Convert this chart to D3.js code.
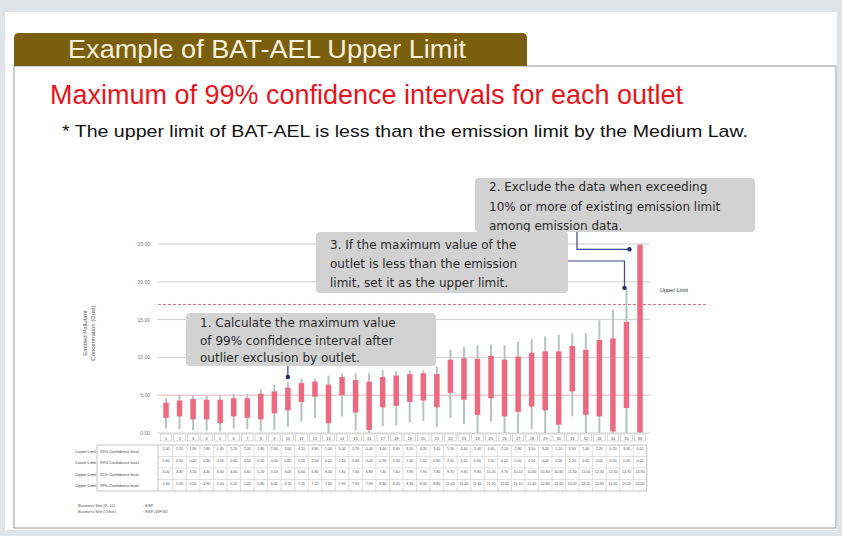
<!DOCTYPE html>
<html>
<head>
<meta charset="utf-8">
<script src="https://cdn.jsdelivr.net/npm/d3@7"></script>
<style>
  body { margin: 0; background: #dfe4e9; }
  svg { display: block; font-family: "Liberation Sans", Arial, sans-serif; }
  .note { font-family: "DejaVu Sans", sans-serif; }
</style>
</head>
<body>
<div id="graph"></div>
<script>
// outlet numbers shown in the header row of the table
const outlets = d3.range(1, 37);

// 99% / 95% confidence interval limits for each outlet
const lower99 = [0.6, 0.5, 0.4, 0.3, 0.2, 0.6, 0.5, 0.2, 0.4, 0.8, 1.5, 2.0, 0.0, 2.2, 0.3, 0.0, 0.9, 1.0,
                 1.4, 1.6, 0.8, 2.0, 1.2, 0.0, 1.5, 0.0, 0.0, 0.5, 0.0, 0.0, 2.2, 0.0, 0.0, 0.0, 0.0, 0.0];
const lower95 = [2.0, 2.2, 1.8, 1.8, 1.3, 2.2, 2.0, 1.8, 2.6, 3.0, 4.1, 4.8, 1.3, 5.0, 2.7, 0.4, 3.4, 3.6,
                 4.1, 4.3, 3.4, 5.3, 4.4, 2.4, 4.6, 2.2, 2.8, 3.5, 3.0, 1.1, 5.5, 2.4, 2.2, 0.2, 3.3, 0.1];
const upper95 = [4.0, 4.3, 4.5, 4.4, 4.4, 4.6, 4.6, 5.2, 5.5, 6.0, 6.6, 6.8, 6.4, 7.4, 7.0, 6.8, 7.4, 7.6,
                 7.8, 7.9, 7.8, 9.7, 9.9, 9.8, 10.2, 9.7, 10.1, 10.6, 10.8, 10.8, 11.5, 11.0, 12.3, 12.5, 14.7, 24.9];
const upper99 = [4.6, 5.0, 5.0, 4.9, 5.0, 5.2, 5.2, 5.8, 6.4, 6.7, 7.2, 7.2, 7.6, 7.9, 7.9, 7.9, 8.3, 8.2,
                 8.3, 8.3, 8.8, 11.0, 11.4, 11.6, 11.7, 11.6, 12.1, 12.4, 12.8, 13.0, 13.2, 13.2, 14.9, 16.3, 19.2, 25.0];

// axis ticks and the reference line
const yTicks = [0, 5, 10, 15, 20, 25];
const upperLimit = 17.0;

// table rows under the chart
const tableRows = [
  {name: "Lower Limit", level: "95% Confidence level", values: lower95},
  {name: "Lower Limit", level: "99% Confidence level", values: lower99},
  {name: "Upper Limit", level: "95% Confidence level", values: upper95},
  {name: "Upper Limit", level: "99% Confidence level", values: upper99}
];

// the three callouts: text, box, first baseline / line height, the outlet the arrow points at and the value at the dot
const notes = [
  {lines: ["1. Calculate the maximum value", "of 99% confidence interval after", "outlier exclusion by outlet."],
   box: [186, 313, 250, 53], first: 14, lh: 17.5, outlet: 10, value: 7.4},
  {lines: ["2. Exclude the data when exceeding", "10% or more of existing emission limit", "among emission data."],
   box: [475, 178, 280, 54], first: 13, lh: 19.5, outlet: 35, value: 24.3},
  {lines: ["3. If the maximum value of the", "outlet is less than the emission", "limit, set it as the upper limit."],
   box: [316, 232, 252, 61], first: 17, lh: 19, outlet: 35, value: 19.2}
];

const footRows = [["Business Site (E, 10)", ": ESP"], ["Business Site (Other)", ": ESP+WFGD"]];

const W = 842, H = 536;
const svg = d3.select('#graph')
              .append('svg')
              .attr('width', W)
              .attr('height', H);

// slide background, card and frame
svg.append('rect').attr('width', W).attr('height', H).attr('fill', '#dfe4e9');
svg.append('rect').attr('x', 5).attr('y', 12).attr('width', 832).attr('height', 518).attr('fill', '#ffffff');
svg.append('rect').attr('x', 14).attr('y', 66).attr('width', 822).attr('height', 462)
   .attr('fill', 'none').attr('stroke', '#9a9a9a').attr('stroke-width', 1);

// brown tab with the slide title
svg.append('path')
   .attr('d', 'M14,66 L14,38 Q14,33 19,33 L522,33 Q527,33 527,38 L527,66 Z')
   .attr('fill', '#7a5f0e');
svg.append('text')
   .text('Example of BAT-AEL Upper Limit')
   .attr('x', 68).attr('y', 58)
   .attr('font-size', 25)
   .attr('textLength', 398)
   .attr('lengthAdjust', 'spacingAndGlyphs')
   .attr('fill', '#f7f0dc');

svg.append('text')
   .text('Maximum of 99% confidence intervals for each outlet')
   .attr('x', 50).attr('y', 104)
   .attr('font-size', 27)
   .attr('textLength', 633)
   .attr('lengthAdjust', 'spacingAndGlyphs')
   .attr('fill', '#e8141c');

svg.append('text')
   .text('* The upper limit of BAT-AEL is less than the emission limit by the Medium Law.')
   .attr('x', 62).attr('y', 137)
   .attr('font-size', 17)
   .attr('textLength', 686)
   .attr('lengthAdjust', 'spacingAndGlyphs')
   .attr('fill', '#111');

// scales
const x = d3.scalePoint().domain(outlets).range([166, 640]);
const y = d3.scaleLinear().domain([0, 25]).range([433, 244]);

// grid lines with small tick labels
const grid = svg.append('g');
grid.selectAll('line')
    .data(yTicks)
    .enter()
    .append('line')
    .attr('x1', 157).attr('x2', 650)
    .attr('y1', d => y(d)).attr('y2', d => y(d))
    .attr('stroke', d => d == 5 ? '#efb0b8' : '#cfcfcf')
    .attr('stroke-width', 1);
grid.selectAll('text')
    .data(yTicks)
    .enter()
    .append('text')
    .text(d => d.toFixed(2))
    .attr('x', 150).attr('y', d => y(d) + 2)
    .attr('text-anchor', 'end')
    .attr('font-size', 5)
    .attr('fill', '#777');

// y axis title
svg.append('text')
   .attr('transform', 'translate(87,333) rotate(-90)')
   .attr('text-anchor', 'middle')
   .attr('font-size', 6)
   .attr('fill', '#555')
   .selectAll('tspan')
   .data(['Emitted Pollutant', 'Concentration (Dust)'])
   .enter()
   .append('tspan')
   .attr('x', 0).attr('dy', (d, i) => i == 0 ? 0 : 8)
   .text(d => d);

// upper limit reference line
svg.append('line')
   .attr('x1', 158).attr('x2', 706)
   .attr('y1', y(upperLimit)).attr('y2', y(upperLimit))
   .attr('stroke', '#e0707c')
   .attr('stroke-width', 1)
   .attr('stroke-dasharray', '3,2');
svg.append('text')
   .text('Upper Limit')
   .attr('x', 660).attr('y', y(upperLimit) - 12)
   .attr('font-size', 5.5)
   .attr('fill', '#333');

// 99% interval as a thin grey line, 95% interval as a thick pink bar
const bars = svg.append('g')
                .selectAll('g')
                .data(outlets)
                .enter()
                .append('g');
bars.append('line')
    .attr('x1', d => x(d)).attr('x2', d => x(d))
    .attr('y1', (d, i) => y(lower99[i])).attr('y2', (d, i) => y(upper99[i]))
    .attr('stroke', '#b9c2c0')
    .attr('stroke-width', 2);
bars.append('rect')
    .attr('x', d => x(d) - 2.75)
    .attr('width', 5.5)
    .attr('y', (d, i) => y(upper95[i]))
    .attr('height', (d, i) => y(lower95[i]) - y(upper95[i]))
    .attr('fill', '#ec6a81');

// table under the chart
const colW = x.step();
const table = svg.append('g');
// header boxes with outlet numbers
table.selectAll('rect.head')
     .data(outlets)
     .enter()
     .append('rect')
     .attr('class', 'head')
     .attr('x', d => x(d) - colW / 2 + 1).attr('y', 434)
     .attr('width', colW - 2).attr('height', 7)
     .attr('fill', 'none').attr('stroke', '#bbb').attr('stroke-width', 0.6);
table.selectAll('text.head')
     .data(outlets)
     .enter()
     .append('text')
     .attr('class', 'head')
     .text(d => d)
     .attr('x', d => x(d)).attr('y', 439.5)
     .attr('text-anchor', 'middle')
     .attr('font-size', 4)
     .attr('fill', '#555');

const rowTop = 445, rowH = 11.5;
const tableLeft = 97, tableRight = x(36) + colW / 2;
table.append('rect')
     .attr('x', tableLeft).attr('y', rowTop)
     .attr('width', tableRight - tableLeft).attr('height', rowH * tableRows.length)
     .attr('fill', 'none').attr('stroke', '#aaa').attr('stroke-width', 0.7);
table.append('line')
     .attr('x1', 158).attr('x2', 158)
     .attr('y1', rowTop).attr('y2', rowTop + rowH * tableRows.length)
     .attr('stroke', '#aaa').attr('stroke-width', 0.7);
tableRows.forEach((row, r) => {
  const ry = rowTop + r * rowH;
  if (r > 0) {
    table.append('line')
         .attr('x1', 158).attr('x2', tableRight)
         .attr('y1', ry).attr('y2', ry)
         .attr('stroke', '#ccc').attr('stroke-width', 0.6);
  }
  table.append('text').text(row.name)
       .attr('x', 96).attr('y', ry + 7.5)
       .attr('text-anchor', 'end').attr('font-size', 4).attr('fill', '#444');
  table.append('text').text(row.level)
       .attr('x', 100).attr('y', ry + 7.5)
       .attr('font-size', 4).attr('fill', '#444');
  table.selectAll(null)
       .data(row.values)
       .enter()
       .append('text')
       .text(v => v.toFixed(2))
       .attr('x', (v, i) => x(outlets[i])).attr('y', ry + 5)
       .attr('text-anchor', 'middle')
       .attr('font-size', 3.6)
       .attr('fill', '#555');
});
// column separators
table.selectAll('line.col')
     .data(outlets)
     .enter()
     .append('line')
     .attr('x1', d => x(d) + colW / 2).attr('x2', d => x(d) + colW / 2)
     .attr('y1', rowTop).attr('y2', rowTop + rowH * tableRows.length)
     .attr('stroke', '#ccc').attr('stroke-width', 0.6);

// footnote under the table
footRows.forEach((f, i) => {
  svg.append('text').text(f[0]).attr('x', 78).attr('y', 507 + i * 6)
     .attr('font-size', 4).attr('fill', '#555');
  svg.append('text').text(f[1]).attr('x', 143).attr('y', 507 + i * 6)
     .attr('font-size', 4).attr('fill', '#555');
});

// callout boxes
const noteG = svg.append('g');
notes.forEach(n => {
  const [bx, by, bw, bh] = n.box;
  noteG.append('rect')
       .attr('x', bx).attr('y', by).attr('width', bw).attr('height', bh)
       .attr('rx', 4)
       .attr('fill', '#d2d2d2');
  noteG.append('text')
       .attr('class', 'note')
       .attr('font-size', 12)
       .attr('fill', '#2a2a2a')
       .selectAll('tspan')
       .data(n.lines)
       .enter()
       .append('tspan')
       .attr('x', bx + 14)
       .attr('y', (d, i) => by + n.first + i * n.lh)
       .text(d => d);
});

// arrows from the callouts to the bars
const arrowColor = '#3b4a88';
const px1 = x(notes[0].outlet), py1 = y(notes[0].value);
const px2 = x(notes[1].outlet) + 3, py2 = y(notes[1].value);
const px3 = x(notes[2].outlet) - 2, py3 = y(notes[2].value);
const links = [
  [[px1, 366], [px1, py1]],
  [[577, 232], [577, py2], [px2, py2]],
  [[568, 261], [px3, 261], [px3, py3]]
];
const pts = [[px1, py1], [px2, py2], [px3, py3]];
noteG.selectAll('path.link')
     .data(links)
     .enter()
     .append('path')
     .attr('d', d3.line())
     .attr('fill', 'none')
     .attr('stroke', arrowColor)
     .attr('stroke-width', 1.2);
noteG.selectAll('circle')
     .data(pts)
     .enter()
     .append('circle')
     .attr('cx', d => d[0]).attr('cy', d => d[1])
     .attr('r', 2.2)
     .attr('fill', '#1e2a66');
</script>
</body>
</html>
